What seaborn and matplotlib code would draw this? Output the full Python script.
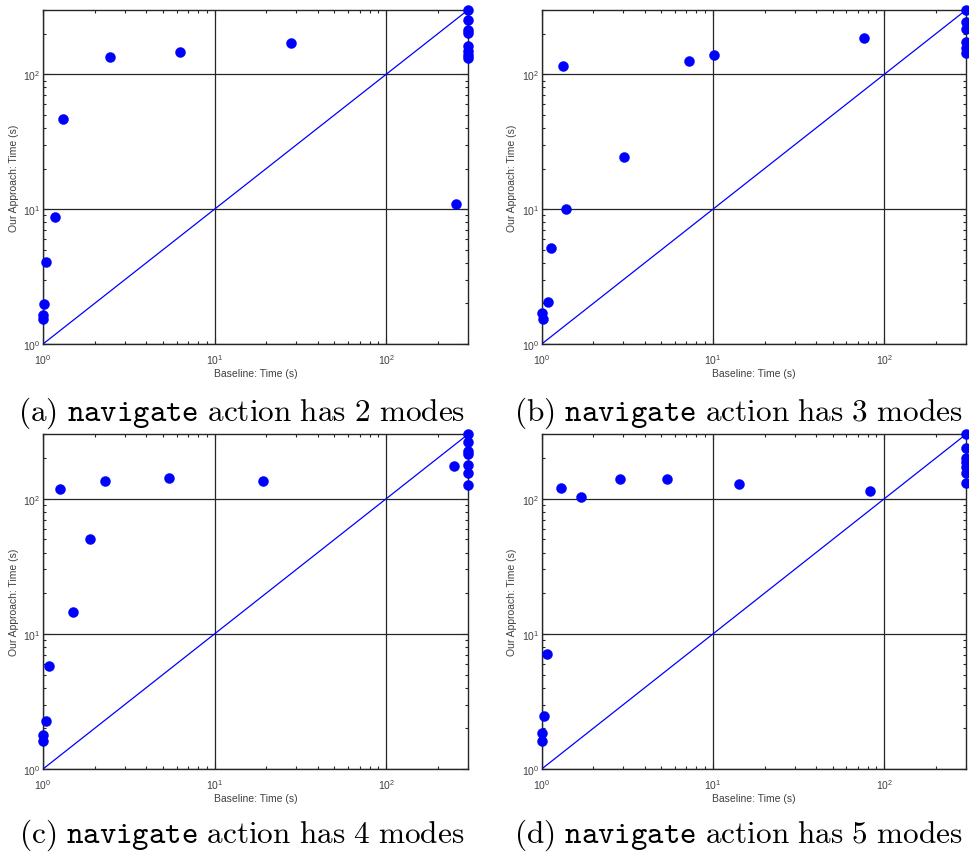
import matplotlib
matplotlib.use("Agg")
import matplotlib.pyplot as plt
import seaborn as sns
import pandas as pd
import numpy as np
from matplotlib.ticker import LogLocator, NullFormatter

# ---------------- data ----------------
a_base = [300, 300, 300, 300, 300, 300, 300, 300, 2.46, 6.25, 28.0, 1.30, 1.18, 1.046, 1.02, 1.0, 1.0, 255]
a_ours = [300, 253, 213, 201, 163, 150, 140, 132, 135, 145.5, 171, 46.4, 8.7, 4.07, 1.97, 1.63, 1.54, 11.0]

b_base = [300, 300, 300, 300, 300, 300, 1.34, 7.21, 10.2, 75.7, 3.04, 1.39, 1.14, 1.09, 1.01, 1.02]
b_ours = [300, 245, 217, 173, 158, 144, 116, 126, 140, 185, 24.4, 10.0, 5.14, 2.04, 1.71, 1.52]

c_base = [300, 300, 300, 300, 300, 300, 300, 249, 1.26, 2.31, 5.44, 19.2, 1.88, 1.49, 1.08, 1.04, 1.0, 1.0]
c_ours = [300, 263, 224, 215, 177, 156, 126, 176, 119, 135, 142, 136, 50.3, 14.4, 5.79, 2.28, 1.80, 1.60]

d_base = [300, 300, 300, 300, 300, 300, 300, 1.29, 1.70, 2.88, 5.39, 14.2, 82.1, 1.07, 1.03, 1.01, 1.01]
d_ours = [300, 239, 200, 187, 172, 156, 131, 120, 103, 140, 141, 128, 114, 7.11, 2.48, 1.86, 1.61]

diag = [1, 300]
limits = [1, 300]

captions = ["(a)", "(b)", "(c)", "(d)"]
modes = [2, 3, 4, 5]
xlabel = "Baseline: Time (s)"
ylabel = "Our Approach: Time (s)"

panels = [(a_base, a_ours), (b_base, b_ours), (c_base, c_ours), (d_base, d_ours)]

# ---------------- style ----------------
sns.set_style("ticks")
plt.rcParams['font.family'] = ['Liberation Sans', 'DejaVu Sans']

W, H = 969, 853
fig = plt.figure(figsize=(W / 100, H / 100), dpi=100)

# axes boxes in pixels: left, right, top, bottom
boxes = [(43, 468, 11, 345), (541.7, 966, 11, 345),
         (43, 468, 435.3, 770), (541.7, 966, 435.3, 770)]
cap_pos = [(241.5, 413), (738, 413), (241.5, 835), (738, 835)]

axcol = '#262626'
for i, ((xb, yo), (l, r, t, b)) in enumerate(zip(panels, boxes)):
    ax = fig.add_axes([l / W, 1 - b / H, (r - l) / W, (b - t) / H])
    ax.set_xscale('log')
    ax.set_yscale('log')
    ax.set_xlim(limits)
    ax.set_ylim(limits)
    ax.plot(diag, diag, color='#0000ff', lw=0.9, zorder=3)
    df = pd.DataFrame({'base': xb, 'ours': yo})
    sns.scatterplot(data=df, x='base', y='ours', ax=ax, color='#0000ff',
                    s=52, edgecolor='#0000ff', linewidth=0.3, zorder=4, clip_on=False)
    ax.xaxis.set_major_locator(LogLocator(base=10, numticks=10))
    ax.yaxis.set_major_locator(LogLocator(base=10, numticks=10))
    ax.xaxis.set_minor_locator(LogLocator(base=10, subs=np.arange(2, 10), numticks=20))
    ax.yaxis.set_minor_locator(LogLocator(base=10, subs=np.arange(2, 10), numticks=20))
    ax.xaxis.set_minor_formatter(NullFormatter())
    ax.yaxis.set_minor_formatter(NullFormatter())
    ax.grid(True, which='major', color=axcol, lw=0.9)
    ax.set_axisbelow(True)
    ax.tick_params(which='both', direction='in', top=True, right=True,
                   colors=axcol, labelcolor='#404040', labelsize=7.5, width=0.8)
    ax.tick_params(which='major', length=4)
    ax.tick_params(axis='x', which='major', pad=6)
    ax.tick_params(axis='y', which='major', pad=2)
    ax.tick_params(which='minor', length=2.5)
    for sp in ax.spines.values():
        sp.set_color(axcol)
        sp.set_linewidth(1.0)
    ax.set_xlabel(xlabel, fontsize=7.5, color='#404040', labelpad=1)
    ax.set_ylabel(ylabel, fontsize=7.5, color='#404040', labelpad=3)

    cx, cy = cap_pos[i]
    txt = r"$\mathrm{%s}\ \mathtt{navigate}\ \mathrm{action\ has\ %d\ modes}$" % (captions[i], modes[i])
    fig.text(cx / W, 1 - cy / H, txt, ha='center', va='center', fontsize=22.5,
             math_fontfamily='cm', color='black')

fig.savefig('out.png', dpi=100)
